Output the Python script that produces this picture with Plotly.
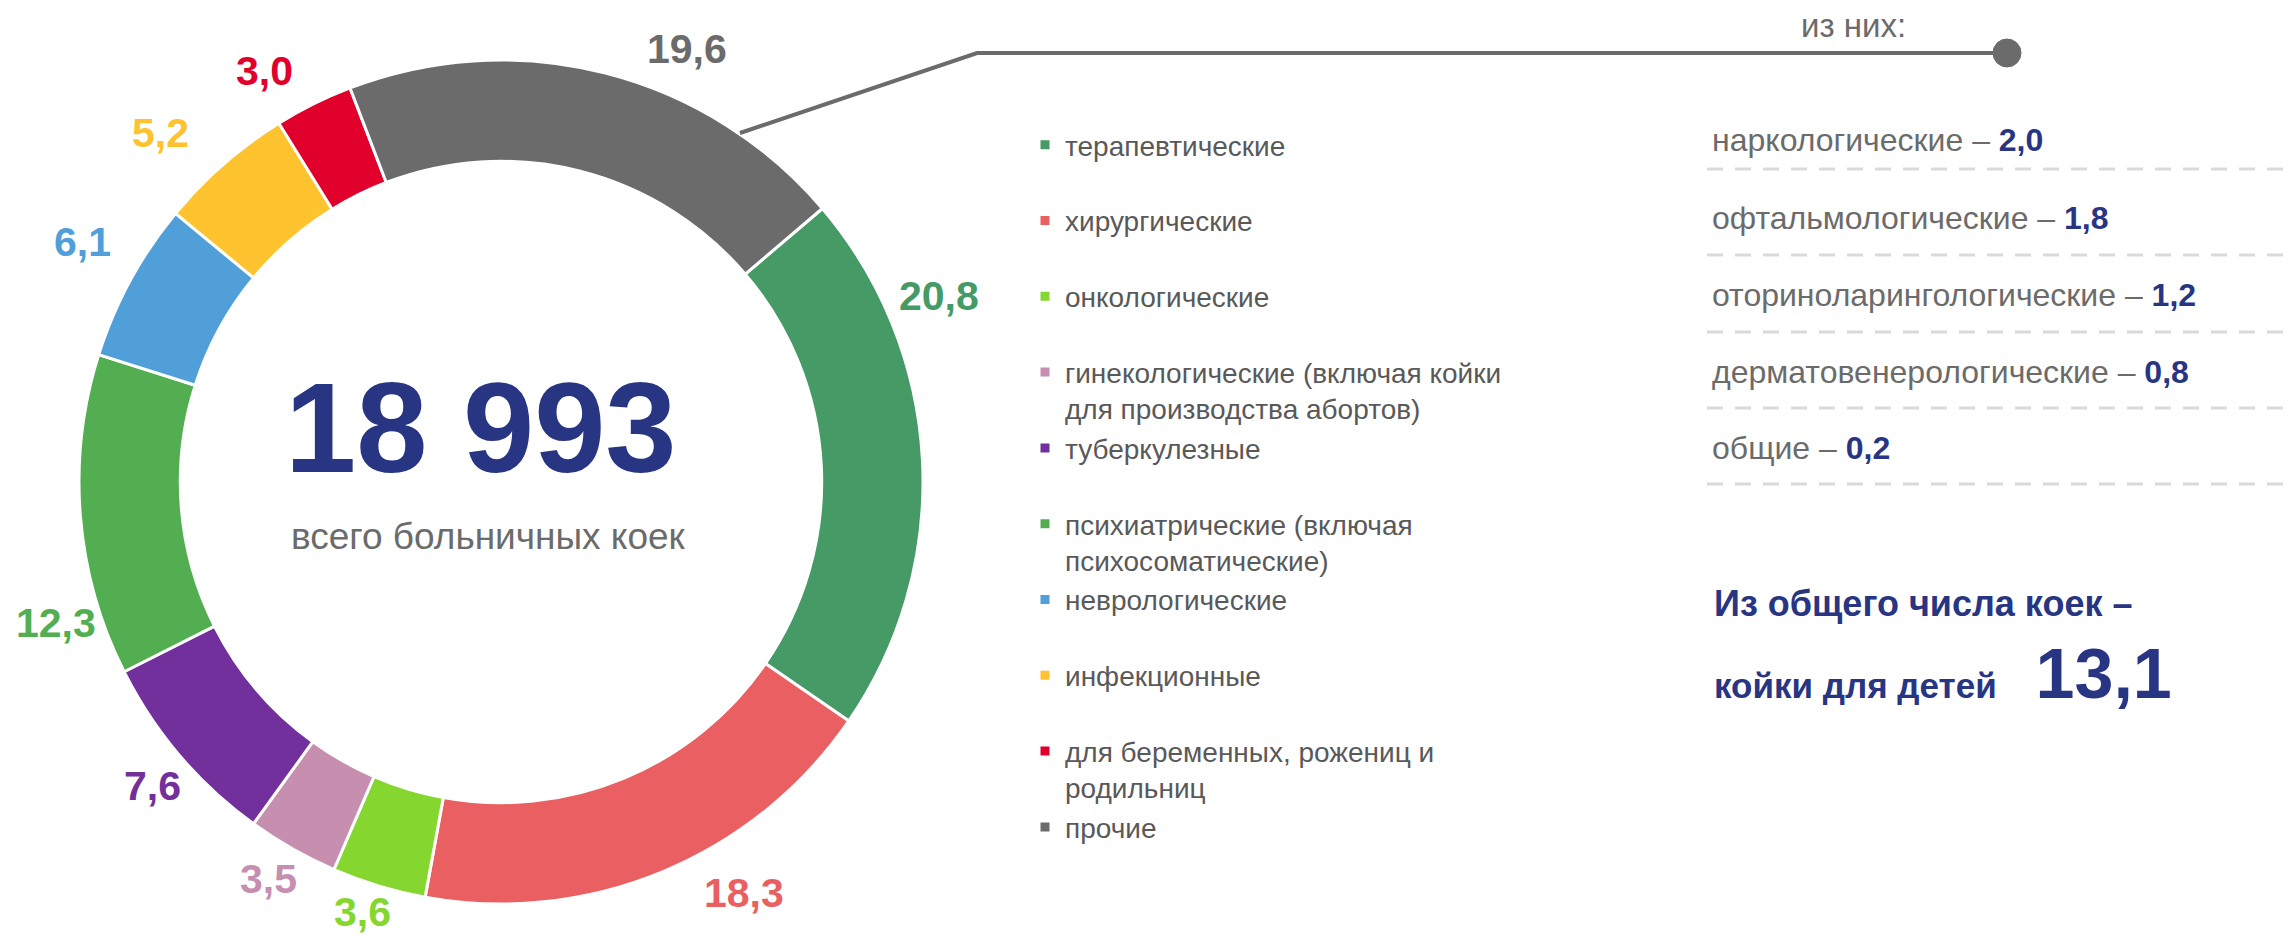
import math
import plotly.graph_objects as go

# данные
labels = [
    "терапевтические",
    "хирургические",
    "онкологические",
    "гинекологические (включая койки<br>для производства абортов)",
    "туберкулезные",
    "психиатрические (включая<br>психосоматические)",
    "неврологические",
    "инфекционные",
    "для беременных, рожениц и<br>родильниц",
    "прочие",
]
values = [20.8, 18.3, 3.6, 3.5, 7.6, 12.3, 6.1, 5.2, 3.0, 19.6]
colors = ["#459A66", "#EA5F61", "#85D62E", "#C78FAF", "#71309B",
          "#52AE50", "#519FD8", "#FFC330", "#E1002C", "#6B6B6B"]

total_beds = "18 993"
total_caption = "всего больничных коек"

sub_title = "из них:"
sub_labels = ["наркологические", "офтальмологические", "оториноларингологические",
              "дерматовенерологические", "общие"]
sub_values = [2.0, 1.8, 1.2, 0.8, 0.2]

children_line1 = "Из общего числа коек –"
children_line2 = "койки для детей"
children_value = 13.1

W, H = 2290, 939
NAVY = "#283583"
GREY = "#6B6B6B"
FONT = "Liberation Sans, Arial, sans-serif"


def ru(v):
    return ("%.1f" % v).replace(".", ",")


# every legend entry gets two lines so the spacing is even
legend_labels = [l if "<br>" in l else l + "<br>\u00a0" for l in labels]

# pie position in pixels
cx, cy, r = 501, 482, 422
rotation = 49.6

# label placement (as the labels were nudged in the original)
label_shift = [-20, -8, 1, 0.7, -0.7, -13, 1.3, -3.2, -3.6, 9]
label_radius = [476, 477, 452, 460, 463, 467, 483, 488, 474, 471]

fig = go.Figure()
fig.add_trace(go.Pie(
    labels=legend_labels,
    values=values,
    sort=False,
    direction="clockwise",
    rotation=rotation,
    hole=0.76,
    marker=dict(colors=colors, line=dict(color="white", width=3)),
    textinfo="none",
    hoverinfo="skip",
    domain=dict(x=[(cx - r) / W, (cx + r) / W], y=[(H - cy - r) / H, (H - cy + r) / H]),
))

annotations = []

# value labels around the ring
total = sum(values)
cum = 0
for v, col, sh, rad in zip(values, colors, label_shift, label_radius):
    ang = math.radians(rotation + (cum + v / 2) / total * 360 + sh)
    cum += v
    annotations.append(dict(x=cx + rad * math.sin(ang), y=cy - rad * math.cos(ang),
                            xref="x", yref="y", text="<b>%s</b>" % ru(v), showarrow=False,
                            font=dict(family=FONT, size=41, color=col),
                            xanchor="center", yanchor="middle"))

annotations.append(dict(x=481, y=427, xref="x", yref="y", text="<b>%s</b>" % total_beds,
                        showarrow=False, font=dict(family=FONT, size=128, color=NAVY),
                        xanchor="center", yanchor="middle"))
annotations.append(dict(x=488, y=536, xref="x", yref="y", text=total_caption,
                        showarrow=False, font=dict(family=FONT, size=37, color=GREY),
                        xanchor="center", yanchor="middle"))
annotations.append(dict(x=1853, y=25, xref="x", yref="y", text=sub_title,
                        showarrow=False, font=dict(family=FONT, size=33, color=GREY),
                        xanchor="center", yanchor="middle"))

row_y = [140, 218, 295, 372, 448]
dash_y = [169, 255, 332, 408, 484]
shapes = []
for lab, val, yy, dy in zip(sub_labels, sub_values, row_y, dash_y):
    txt = "%s – <b><span style='color:%s'>%s</span></b>" % (lab, NAVY, ru(val))
    annotations.append(dict(x=1710, y=yy, xref="x", yref="y", text=txt, showarrow=False,
                            font=dict(family=FONT, size=32, color=GREY),
                            xanchor="left", yanchor="middle"))
    shapes.append(dict(type="line", xref="x", yref="y", x0=1707, x1=W, y0=dy, y1=dy,
                       line=dict(color="#DADADA", width=3, dash="16px,12px")))

annotations.append(dict(x=1712, y=603, xref="x", yref="y", text="<b>%s</b>" % children_line1,
                        showarrow=False, font=dict(family=FONT, size=36, color=NAVY),
                        xanchor="left", yanchor="middle"))
annotations.append(dict(x=1712, y=715, xref="x", yref="y",
                        text="<b>%s  <span style='font-size:70px'> %s</span></b>"
                             % (children_line2, ru(children_value)),
                        showarrow=False, font=dict(family=FONT, size=35, color=NAVY),
                        xanchor="left", yanchor="bottom"))

# connector from the "прочие" slice to the list
shapes.append(dict(type="path", xref="x", yref="y", path="M 740 133 L 977 53 L 2007 53",
                   line=dict(color=GREY, width=4)))
shapes.append(dict(type="circle", xref="x", yref="y", x0=1993, x1=2021, y0=39, y1=67,
                   fillcolor=GREY, line=dict(color=GREY, width=1)))

fig.update_layout(
    width=W, height=H,
    margin=dict(l=0, r=0, t=0, b=0, autoexpand=False),
    paper_bgcolor="white", plot_bgcolor="white",
    xaxis=dict(range=[0, W], visible=False, domain=[0, 1]),
    yaxis=dict(range=[H, 0], visible=False, domain=[0, 1]),
    showlegend=True,
    legend=dict(x=1025 / W, y=1 - 120 / H, xanchor="left", yanchor="top", valign="top",
                font=dict(family=FONT, size=28, color="#595959"),
                bgcolor="rgba(0,0,0,0)", itemclick=False, itemdoubleclick=False),
    annotations=annotations,
    shapes=shapes,
)

# drop the default page margin so the figure fills the window
fig.write_html("out.html", config={"displayModeBar": False},
               post_script="document.body.style.margin='0';document.body.style.overflow='hidden';")
